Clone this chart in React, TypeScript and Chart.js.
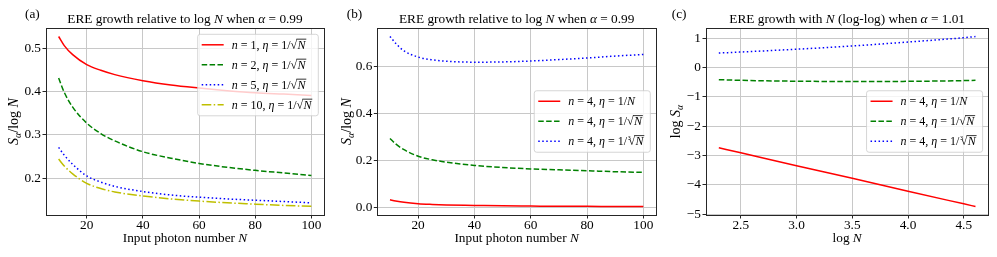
import React, { useEffect, useRef } from 'react';
import { Chart, registerables } from 'chart.js';

Chart.register(...registerables);

const FAMILY = '"Liberation Serif", "Times New Roman", Times, serif';

// ---------- Panel (a): S_alpha / log N vs N, alpha = 0.99 ----------
const N_VALUES = [10, 12, 15, 20, 25, 30, 40, 50, 60, 70, 80, 90, 100];
const A_N1 = [0.527, 0.506, 0.485, 0.462, 0.449, 0.439, 0.425, 0.415, 0.408, 0.402, 0.397, 0.394, 0.391];
const A_N2 = [0.431, 0.398, 0.364, 0.327, 0.303, 0.286, 0.261, 0.246, 0.234, 0.225, 0.218, 0.212, 0.206];
const A_N5 = [0.271, 0.253, 0.232, 0.205, 0.191, 0.181, 0.169, 0.161, 0.156, 0.152, 0.149, 0.146, 0.143];
const A_N10 = [0.244, 0.228, 0.21, 0.188, 0.176, 0.168, 0.159, 0.152, 0.147, 0.143, 0.14, 0.137, 0.135];

// ---------- Panel (b): n = 4, different eta ----------
const B_ETA_N = [0.031, 0.026, 0.02, 0.014, 0.011, 0.009, 0.007, 0.005, 0.004, 0.003, 0.003, 0.002, 0.002];
const B_ETA_SQRT = [0.293, 0.27, 0.245, 0.217, 0.202, 0.192, 0.178, 0.169, 0.163, 0.159, 0.155, 0.151, 0.148];
const B_ETA_CBRT = [0.729, 0.7, 0.667, 0.641, 0.629, 0.623, 0.619, 0.62, 0.624, 0.63, 0.637, 0.645, 0.652];

// ---------- Panel (c): log S_alpha vs log N, alpha = 1.01 ----------
const LOG_N = [2.303, 2.5, 3.0, 3.5, 4.0, 4.5, 4.605];
const C_ETA_N = [-2.737, -2.91, -3.35, -3.78, -4.22, -4.65, -4.74];
const C_ETA_SQRT = [-0.418, -0.44, -0.47, -0.48, -0.475, -0.45, -0.44];
const C_ETA_CBRT = [0.489, 0.524, 0.62, 0.73, 0.865, 1.012, 1.053];

// ---------- Ticks ----------
const X_TICKS_N = [20, 40, 60, 80, 100];
const Y_TICKS_A = [0.2, 0.3, 0.4, 0.5];
const Y_TICKS_B = [0.0, 0.2, 0.4, 0.6];
const X_TICKS_C = [2.5, 3.0, 3.5, 4.0, 4.5];
const Y_TICKS_C = [-5, -4, -3, -2, -1, 0, 1];

type Seg = { t: string; it?: boolean; sub?: boolean; sq?: boolean; root?: string };

const RED = '#ff0000';
const GREEN = '#008000';
const BLUE = '#0000ff';
const YELLOW = '#bfbf00';
const SOLID: number[] = [];
const DASHED = [5.5, 2.4];
const DOTTED = [1.5, 2.5];
const DASHDOT = [9.6, 2.4, 1.5, 2.4];

function etaLabel(n: string, kind: 'N' | 'sqrt' | 'cbrt'): Seg[] {
  const segs: Seg[] = [
    { t: 'n', it: true },
    { t: ' = ' + n + ', ' },
    { t: 'η', it: true },
    { t: ' = 1/' },
  ];
  if (kind === 'N') segs.push({ t: 'N', it: true });
  else if (kind === 'sqrt') segs.push({ t: 'N', sq: true });
  else segs.push({ t: 'N', sq: true, root: '3' });
  return segs;
}

function font(size: number, italic?: boolean) {
  return `${italic ? 'italic ' : ''}${size}px ${FAMILY}`;
}

function segWidth(ctx: CanvasRenderingContext2D, s: Seg, size: number) {
  if (s.sq) {
    ctx.font = font(size);
    const rw = ctx.measureText('√').width;
    ctx.font = font(size, true);
    const tw = ctx.measureText(s.t).width;
    return (s.root ? size * 0.12 : 0) + rw + tw + size * 0.1;
  }
  ctx.font = font(s.sub ? size * 0.7 : size, s.it);
  return ctx.measureText(s.t).width;
}

function richWidth(ctx: CanvasRenderingContext2D, segs: Seg[], size: number) {
  return segs.reduce((a, s) => a + segWidth(ctx, s, size), 0);
}

function drawRich(ctx: CanvasRenderingContext2D, segs: Seg[], x: number, y: number, size: number, align: 'left' | 'center') {
  const widths = segs.map((s) => segWidth(ctx, s, size));
  const total = widths.reduce((a, b) => a + b, 0);
  let cx = align === 'center' ? x - total / 2 : x;
  ctx.fillStyle = '#000';
  ctx.textAlign = 'left';
  ctx.textBaseline = 'alphabetic';
  segs.forEach((s, i) => {
    if (s.sq) {
      let sx = cx;
      if (s.root) {
        ctx.font = font(size * 0.5);
        ctx.fillText(s.root, sx + size * 0.05, y - size * 0.42);
        sx += size * 0.12;
      }
      ctx.font = font(size);
      const m = ctx.measureText('√');
      ctx.fillText('√', sx, y);
      const rw = m.width;
      const top = y - m.actualBoundingBoxAscent;
      ctx.font = font(size, true);
      const tw = ctx.measureText(s.t).width;
      ctx.fillText(s.t, sx + rw + size * 0.03, y);
      ctx.strokeStyle = '#000';
      ctx.lineWidth = Math.max(0.8, size * 0.055);
      ctx.setLineDash([]);
      ctx.beginPath();
      ctx.moveTo(sx + rw - size * 0.06, top + ctx.lineWidth / 2);
      ctx.lineTo(sx + rw + tw + size * 0.1, top + ctx.lineWidth / 2);
      ctx.stroke();
    } else {
      ctx.font = font(s.sub ? size * 0.7 : size, s.it);
      ctx.fillText(s.t, cx, s.sub ? y + size * 0.2 : y);
    }
    cx += widths[i];
  });
}

type Series = { xs: number[]; ys: number[]; color: string; dash: number[]; label: Seg[] };

type PanelCfg = {
  key: string;
  left: number;
  width: number;
  areaL: number;
  areaR: number;
  xMin: number;
  xMax: number;
  yMin: number;
  yMax: number;
  xTicks: number[];
  yTicks: number[];
  xFmt: (v: number) => string;
  yFmt: (v: number) => string;
  tag: string;
  tagX: number;
  title: Seg[];
  xTitle: Seg[];
  yTitle: Seg[];
  yTitleX: number;
  legendMode: 'upper' | 'center';
  series: Series[];
};

const TOP = 28;
const BOTTOM = 215;
const H = 257;

const fmtMinus = (v: number) => (v < 0 ? '\u2212' + String(Math.abs(v)) : String(v));

const PANELS: PanelCfg[] = [
  {
    key: 'a',
    left: 0,
    width: 335,
    areaL: 46,
    areaR: 324,
    xMin: 5.5,
    xMax: 104.5,
    yMin: 0.1149,
    yMax: 0.5466,
    xTicks: X_TICKS_N,
    yTicks: Y_TICKS_A,
    xFmt: (v) => String(v),
    yFmt: (v) => v.toFixed(1),
    tag: '(a)',
    tagX: 25,
    title: [{ t: 'ERE growth relative to log ' }, { t: 'N', it: true }, { t: ' when ' }, { t: 'α', it: true }, { t: ' = 0.99' }],
    xTitle: [{ t: 'Input photon number ' }, { t: 'N', it: true }],
    yTitle: [{ t: 'S', it: true }, { t: 'α', it: true, sub: true }, { t: '/log ' }, { t: 'N', it: true }],
    yTitleX: 14,
    legendMode: 'upper',
    series: [
      { xs: N_VALUES, ys: A_N1, color: RED, dash: SOLID, label: etaLabel('1', 'sqrt') },
      { xs: N_VALUES, ys: A_N2, color: GREEN, dash: DASHED, label: etaLabel('2', 'sqrt') },
      { xs: N_VALUES, ys: A_N5, color: BLUE, dash: DOTTED, label: etaLabel('5', 'sqrt') },
      { xs: N_VALUES, ys: A_N10, color: YELLOW, dash: DASHDOT, label: etaLabel('10', 'sqrt') },
    ],
  },
  {
    key: 'b',
    left: 335,
    width: 330,
    areaL: 377.3,
    areaR: 656,
    xMin: 5.5,
    xMax: 104.5,
    yMin: -0.034,
    yMax: 0.765,
    xTicks: X_TICKS_N,
    yTicks: Y_TICKS_B,
    xFmt: (v) => String(v),
    yFmt: (v) => v.toFixed(1),
    tag: '(b)',
    tagX: 346.7,
    title: [{ t: 'ERE growth relative to log ' }, { t: 'N', it: true }, { t: ' when ' }, { t: 'α', it: true }, { t: ' = 0.99' }],
    xTitle: [{ t: 'Input photon number ' }, { t: 'N', it: true }],
    yTitle: [{ t: 'S', it: true }, { t: 'α', it: true, sub: true }, { t: '/log ' }, { t: 'N', it: true }],
    yTitleX: 346.5,
    legendMode: 'center',
    series: [
      { xs: N_VALUES, ys: B_ETA_N, color: RED, dash: SOLID, label: etaLabel('4', 'N') },
      { xs: N_VALUES, ys: B_ETA_SQRT, color: GREEN, dash: DASHED, label: etaLabel('4', 'sqrt') },
      { xs: N_VALUES, ys: B_ETA_CBRT, color: BLUE, dash: DOTTED, label: etaLabel('4', 'cbrt') },
    ],
  },
  {
    key: 'c',
    left: 665,
    width: 332,
    areaL: 706,
    areaR: 988.3,
    xMin: 2.188,
    xMax: 4.72,
    yMin: -5.03,
    yMax: 1.343,
    xTicks: X_TICKS_C,
    yTicks: Y_TICKS_C,
    xFmt: (v) => v.toFixed(1),
    yFmt: fmtMinus,
    tag: '(c)',
    tagX: 671.7,
    title: [{ t: 'ERE growth with ' }, { t: 'N', it: true }, { t: ' (log-log) when ' }, { t: 'α', it: true }, { t: ' = 1.01' }],
    xTitle: [{ t: 'log ' }, { t: 'N', it: true }],
    yTitle: [{ t: 'log ' }, { t: 'S', it: true }, { t: 'α', it: true, sub: true }],
    yTitleX: 676,
    legendMode: 'center',
    series: [
      { xs: LOG_N, ys: C_ETA_N, color: RED, dash: SOLID, label: etaLabel('4', 'N') },
      { xs: LOG_N, ys: C_ETA_SQRT, color: GREEN, dash: DASHED, label: etaLabel('4', 'sqrt') },
      { xs: LOG_N, ys: C_ETA_CBRT, color: BLUE, dash: DOTTED, label: etaLabel('4', 'cbrt') },
    ],
  },
];

const GRID = '#c8c8c8';
const FRAME = '#262626';
const TICK_SIZE = 13.3;
const TITLE_SIZE = 13.3;
const LABEL_SIZE = 13.3;
const YLABEL_SIZE = 14;
const LEGEND_SIZE = 12;

function makePlugin(p: PanelCfg) {
  return {
    id: 'deco_' + p.key,
    afterDatasetsDraw(chart: any) {
      const ctx: CanvasRenderingContext2D = chart.ctx;
      const a = chart.chartArea;
      ctx.save();
      // legend
      const rows = p.series.length;
      const textW = Math.max(...p.series.map((s) => richWidth(ctx, s.label, LEGEND_SIZE)));
      const boxW = 34 + textW + 6;
      const boxH = 20 * rows + 1.5;
      const bx = a.right - 5.7 - boxW;
      const by = p.legendMode === 'upper' ? a.top + 6.3 : (a.top + a.bottom) / 2 - boxH / 2;
      ctx.globalAlpha = 0.8;
      ctx.fillStyle = '#ffffff';
      ctx.beginPath();
      (ctx as any).roundRect(bx, by, boxW, boxH, 2.5);
      ctx.fill();
      ctx.strokeStyle = '#cccccc';
      ctx.lineWidth = 1;
      ctx.stroke();
      ctx.globalAlpha = 1;
      p.series.forEach((s, i) => {
        const cy = by + 10.5 + 20 * i;
        ctx.strokeStyle = s.color;
        ctx.lineWidth = 1.5;
        ctx.setLineDash(s.dash);
        ctx.beginPath();
        ctx.moveTo(bx + 4, cy);
        ctx.lineTo(bx + 26, cy);
        ctx.stroke();
        ctx.setLineDash([]);
        drawRich(ctx, s.label, bx + 34, cy + LEGEND_SIZE * 0.33, LEGEND_SIZE, 'left');
      });
      // frame
      ctx.strokeStyle = FRAME;
      ctx.lineWidth = 1;
      ctx.setLineDash([]);
      const l = Math.floor(a.left) + 0.5;
      const t = Math.floor(a.top) + 0.5;
      const r = Math.floor(a.right) + 0.5;
      const b = Math.floor(a.bottom) + 0.5;
      ctx.strokeRect(l, t, r - l, b - t);
      ctx.restore();
    },
    afterDraw(chart: any) {
      const ctx: CanvasRenderingContext2D = chart.ctx;
      const a = chart.chartArea;
      ctx.save();
      const cxArea = (a.left + a.right) / 2;
      drawRich(ctx, p.title, cxArea, 22.5, TITLE_SIZE, 'center');
      drawRich(ctx, p.xTitle, cxArea, 242, LABEL_SIZE, 'center');
      ctx.font = font(13.3);
      ctx.fillStyle = '#000';
      ctx.textAlign = 'left';
      ctx.textBaseline = 'alphabetic';
      ctx.fillText(p.tag, p.tagX - p.left, 17.5);
      ctx.save();
      ctx.translate(p.yTitleX - p.left, (a.top + a.bottom) / 2);
      ctx.rotate(-Math.PI / 2);
      drawRich(ctx, p.yTitle, 0, YLABEL_SIZE * 0.3, YLABEL_SIZE, 'center');
      ctx.restore();
      ctx.restore();
    },
  };
}

function buildConfig(p: PanelCfg): any {
  return {
    type: 'line',
    data: {
      datasets: p.series.map((s) => ({
        data: s.xs.map((x, i) => ({ x, y: s.ys[i] })),
        borderColor: s.color,
        backgroundColor: s.color,
        borderWidth: 1.5,
        borderDash: s.dash,
        pointRadius: 0,
        fill: false,
        cubicInterpolationMode: 'monotone',
      })),
    },
    options: {
      animation: false,
      responsive: false,
      maintainAspectRatio: false,
      devicePixelRatio: 1,
      events: [],
      layout: {
        padding: { left: 0, right: p.left + p.width - p.areaR, top: TOP, bottom: 0 },
      },
      plugins: {
        legend: { display: false },
        title: { display: false },
        tooltip: { enabled: false },
      },
      scales: {
        x: {
          type: 'linear',
          min: p.xMin,
          max: p.xMax,
          afterBuildTicks: (s: any) => {
            s.ticks = p.xTicks.map((v) => ({ value: v }));
          },
          afterFit: (s: any) => {
            s.height = H - BOTTOM;
          },
          grid: { color: GRID, lineWidth: 1, drawTicks: true, tickLength: 3.5, tickColor: FRAME, tickWidth: 1 },
          border: { display: false },
          ticks: {
            color: '#000',
            font: { family: FAMILY, size: TICK_SIZE, lineHeight: 1.0 },
            padding: 0,
            maxRotation: 0,
            autoSkip: false,
            callback: (v: number) => p.xFmt(v),
          },
        },
        y: {
          type: 'linear',
          min: p.yMin,
          max: p.yMax,
          afterBuildTicks: (s: any) => {
            s.ticks = p.yTicks.map((v) => ({ value: v }));
          },
          afterFit: (s: any) => {
            s.width = p.areaL - p.left;
          },
          grid: { color: GRID, lineWidth: 1, drawTicks: true, tickLength: 3.5, tickColor: FRAME, tickWidth: 1 },
          border: { display: false },
          ticks: {
            color: '#000',
            font: { family: FAMILY, size: TICK_SIZE },
            padding: 1.5,
            autoSkip: false,
            callback: (v: number) => p.yFmt(v),
          },
        },
      },
    },
    plugins: [makePlugin(p)],
  };
}

function Panel({ p }: { p: PanelCfg }) {
  const ref = useRef<HTMLCanvasElement>(null);
  useEffect(() => {
    const chart = new Chart(ref.current as HTMLCanvasElement, buildConfig(p));
    return () => chart.destroy();
  }, [p]);
  return (
    <canvas
      ref={ref}
      width={p.width}
      height={H}
      style={{ position: 'absolute', left: p.left, top: 0, width: p.width, height: H }}
    />
  );
}

export default function App() {
  return (
    <div style={{ position: 'absolute', left: 0, top: 0, width: 997, height: H, background: '#ffffff', overflow: 'hidden' }}>
      {PANELS.map((p) => (
        <Panel key={p.key} p={p} />
      ))}
    </div>
  );
}
